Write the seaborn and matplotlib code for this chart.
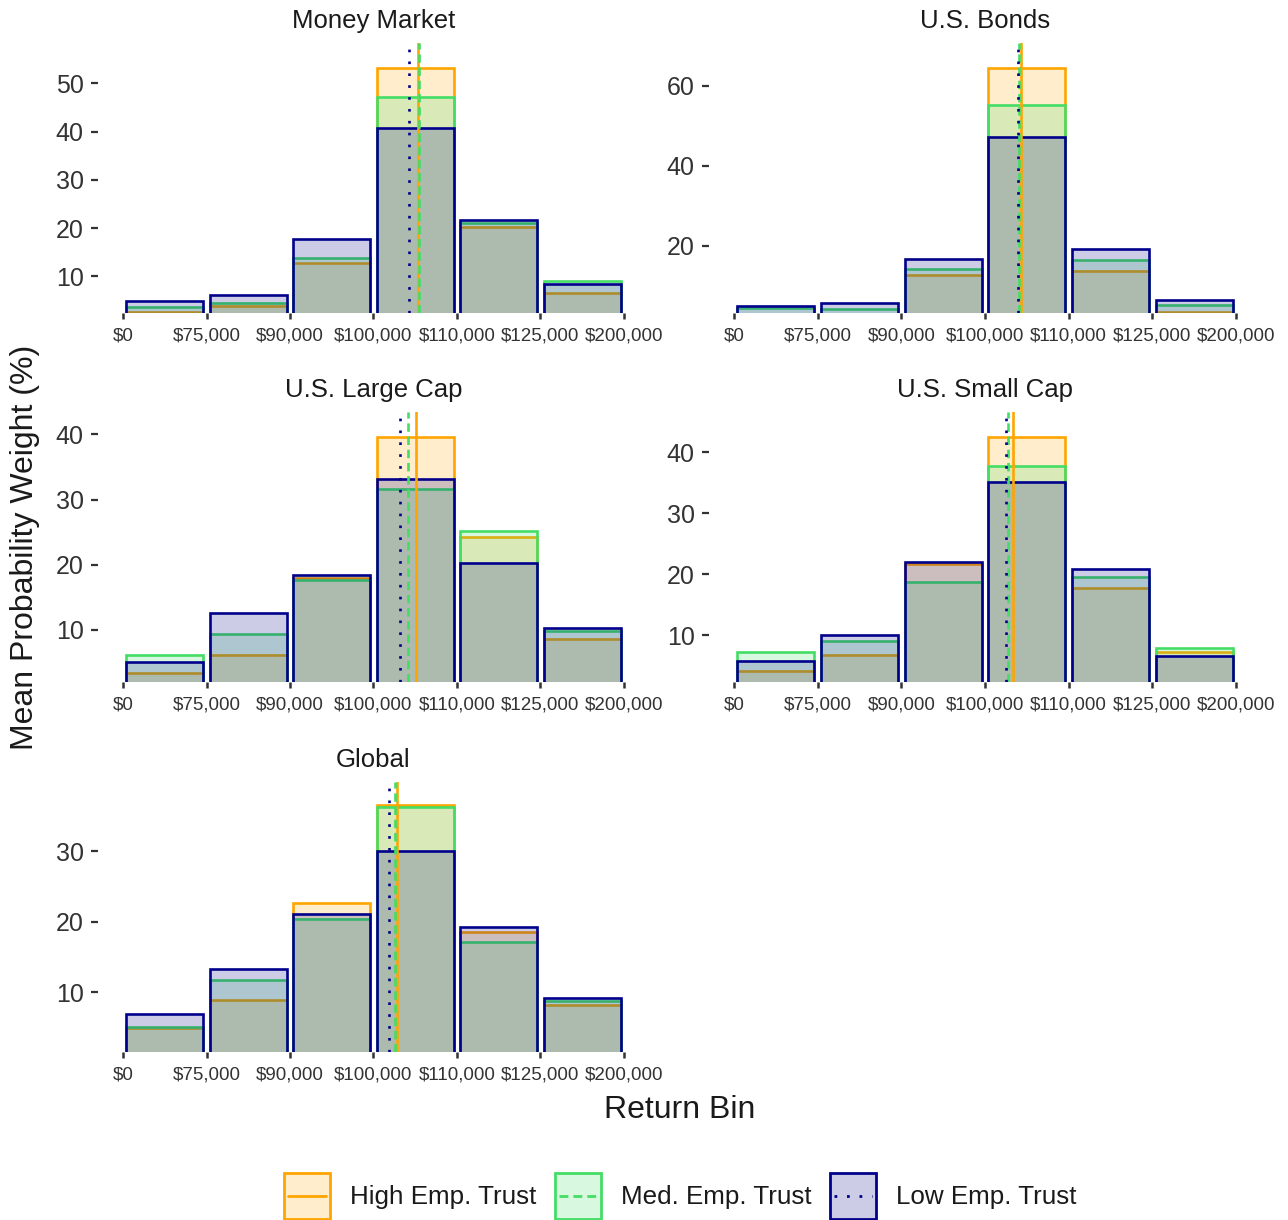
import numpy as np
import pandas as pd
import matplotlib
matplotlib.use("Agg")
import matplotlib.pyplot as plt
import seaborn as sns
from matplotlib.patches import Rectangle
from matplotlib.lines import Line2D
from matplotlib.colors import to_rgba
from matplotlib.ticker import MultipleLocator
from matplotlib.legend_handler import HandlerBase

# ---- data -------------------------------------------------------------
bin_edges = ["$0", "$75,000", "$90,000", "$100,000", "$110,000", "$125,000", "$200,000"]
groups = ["High Emp. Trust", "Med. Emp. Trust", "Low Emp. Trust"]
assets = ["Money Market", "U.S. Bonds", "U.S. Large Cap", "U.S. Small Cap", "Global"]

# mean probability weight (%) per return bin, by trust group
mm_high = [2.7, 3.9, 12.8, 53.2, 20.2, 6.6]
mm_med = [3.6, 4.5, 13.8, 47.2, 21.1, 9.0]
mm_low = [5.0, 6.2, 17.7, 40.8, 21.6, 8.4]

bonds_high = [3.0, 3.0, 12.75, 64.6, 13.75, 3.4]
bonds_med = [4.4, 4.2, 14.25, 55.2, 16.6, 5.25]
bonds_low = [5.0, 5.8, 16.75, 47.2, 19.25, 6.5]

large_high = [3.4, 6.1, 17.9, 39.6, 24.3, 8.6]
large_med = [6.1, 9.4, 17.6, 31.7, 25.2, 9.9]
large_low = [5.1, 12.6, 18.5, 33.2, 20.3, 10.3]

small_high = [4.1, 6.8, 21.7, 42.6, 17.7, 7.15]
small_med = [7.25, 9.0, 18.8, 37.8, 19.5, 7.9]
small_low = [5.8, 10.1, 22.0, 35.2, 20.8, 6.6]

global_high = [5.0, 8.9, 22.7, 36.6, 18.6, 8.2]
global_med = [5.1, 11.8, 20.4, 36.3, 17.2, 8.8]
global_low = [6.9, 13.4, 21.2, 30.1, 19.3, 9.2]

# weighted mean bin position (0 = $0 edge, 6 = $200,000 edge), by trust group
mean_high = [3.535, 3.435, 3.51, 3.33, 3.28]
mean_med = [3.545, 3.41, 3.41, 3.27, 3.26]
mean_low = [3.43, 3.395, 3.32, 3.25, 3.19]

weights = {
    "Money Market": (mm_high, mm_med, mm_low),
    "U.S. Bonds": (bonds_high, bonds_med, bonds_low),
    "U.S. Large Cap": (large_high, large_med, large_low),
    "U.S. Small Cap": (small_high, small_med, small_low),
    "Global": (global_high, global_med, global_low),
}

rows = []
for a in assets:
    for g, vals in zip(groups, weights[a]):
        for i, v in enumerate(vals):
            rows.append({"asset": a, "group": g, "pos": i + 0.5, "weight": v})
df = pd.DataFrame(rows)

# ---- style ------------------------------------------------------------
colors = {"High Emp. Trust": "#FFA500", "Med. Emp. Trust": "#44DD66", "Low Emp. Trust": "#00008B"}
styles = {"High Emp. Trust": "-", "Med. Emp. Trust": (0, (3.2, 1.8)), "Low Emp. Trust": (0, (1, 3.5))}
means = {"High Emp. Trust": mean_high, "Med. Emp. Trust": mean_med, "Low Emp. Trust": mean_low}

sns.set_style("white")
plt.rcParams["font.family"] = ["Liberation Sans", "DejaVu Sans"]
text_col = "#1A1A1A"
tick_col = "#333333"

W, H = 1288, 1220
fig = plt.figure(figsize=(W / 100, H / 100), dpi=100)


def frac(l, t, r, b):
    return [l / W, 1 - b / H, (r - l) / W, (b - t) / H]


col_px = [(98, 649), (709, 1261)]
row_px = [(42.7, 312.7), (411.7, 682.0), (781.7, 1051.7)]
grid_pos = [(0, 0), (0, 1), (1, 0), (1, 1), (2, 0)]
ylims = [(2.5, 58.4), (3.3, 70.8), (2.0, 43.5), (2.3, 46.7), (1.6, 39.9)]
ysteps = [10, 20, 10, 10, 10]
lw = 1.9

for k, asset in enumerate(assets):
    r, c = grid_pos[k]
    ax = fig.add_axes(frac(col_px[c][0], row_px[r][0], col_px[c][1], row_px[r][1]))
    sub = df[df["asset"] == asset]
    for g in groups:
        n0 = len(ax.patches)
        sns.barplot(data=sub[sub["group"] == g], x="pos", y="weight", native_scale=True,
                    width=0.92, color=colors[g], errorbar=None, ax=ax)
        for p in ax.patches[n0:]:
            p.set_facecolor(to_rgba(colors[g], 0.2))
            p.set_edgecolor(colors[g])
            p.set_linewidth(lw)
    for g in groups:
        ax.axvline(means[g][k], color=colors[g], linestyle=styles[g], linewidth=lw, zorder=5)

    ax.set_xlim(-0.3, 6.3)
    ax.set_ylim(*ylims[k])
    ax.set_xticks(np.arange(len(bin_edges)))
    ax.set_xticklabels(bin_edges)
    ax.yaxis.set_major_locator(MultipleLocator(ysteps[k]))
    ax.set_xlabel("")
    ax.set_ylabel("")
    ax.set_title(asset, fontsize=18.5, color=text_col, pad=10.5)
    ax.tick_params(axis="y", left=True, length=5.3, width=1.6, color=tick_col, labelsize=18,
                   labelcolor=tick_col, pad=5)
    ax.tick_params(axis="x", bottom=True, length=4.5, width=1.8, color=tick_col, labelsize=13.5,
                   labelcolor=tick_col, pad=6)
    sns.despine(ax=ax, left=True, bottom=True)
    ax.grid(False)

fig.text(25 / W, 1 - 547 / H, "Mean Probability Weight (%)", rotation=90,
         ha="center", va="center", fontsize=23, color=text_col)
fig.text(679.5 / W, 1 - 1110 / H, "Return Bin", ha="center", va="center",
         fontsize=23, color=text_col)


class BoxLineHandler(HandlerBase):
    """Legend key: a filled square with the group's line style across its middle."""

    def create_artists(self, legend, orig_handle, xdescent, ydescent, width, height,
                       fontsize, trans):
        g = orig_handle
        x0, y0 = -xdescent, -ydescent
        box = Rectangle((x0, y0), width, height, facecolor=to_rgba(colors[g], 0.2),
                        edgecolor=colors[g], linewidth=2, transform=trans)
        ym = y0 + height / 2
        inset = width * 0.1
        ln = Line2D([x0 + inset, x0 + width - inset], [ym, ym], color=colors[g],
                    linestyle=styles[g], linewidth=2, transform=trans)
        return [box, ln]


class KeyProxy(str):
    pass


proxies = [KeyProxy(g) for g in groups]
fig.legend(proxies, groups, loc="center", bbox_to_anchor=(680 / W, 1 - 1196 / H), ncol=3,
           frameon=False, fontsize=18.7, handlelength=1.8, handleheight=2.3,
           handletextpad=0.75, columnspacing=0.7, labelcolor=text_col,
           handler_map={KeyProxy: BoxLineHandler()})

fig.savefig("out.png", dpi=100, facecolor="white")
